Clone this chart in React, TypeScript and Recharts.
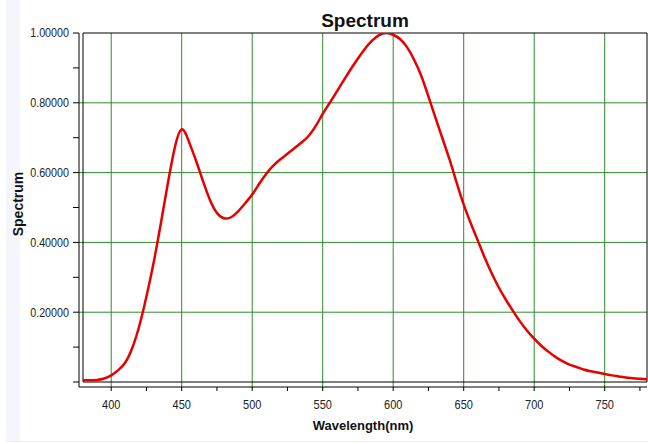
import React from "react";
import {
  LineChart,
  Line,
  XAxis,
  YAxis,
  CartesianGrid,
  ReferenceArea,
} from "recharts";

// wavelengths (nm) and relative spectrum
const wavelengths = [
  380, 385, 390, 395, 400, 405, 410, 415, 420, 425, 430, 435, 440, 445, 450,
  455, 460, 465, 470, 475, 480, 485, 490, 495, 500, 505, 510, 515, 520,
  525, 530, 535, 540, 545, 550, 555, 560, 565, 570, 575, 580, 585, 590, 595,
  600, 605, 610, 615, 620, 625, 630, 635, 640, 645, 650, 655, 660, 665, 670,
  675, 680, 685, 690, 695, 700, 705, 710, 715, 720, 725, 730, 735, 740, 745,
  750, 755, 760, 765, 770, 775, 780,
];
const spectrum = [
  0.005, 0.005, 0.006, 0.01, 0.019, 0.034, 0.056, 0.098, 0.162, 0.245, 0.34,
  0.45, 0.565, 0.67, 0.724, 0.69, 0.636, 0.577, 0.522, 0.484, 0.469,
  0.472, 0.489, 0.512, 0.537, 0.568, 0.597, 0.62, 0.638, 0.654, 0.67, 0.686,
  0.705, 0.733, 0.768, 0.8, 0.832, 0.865, 0.897, 0.927, 0.955, 0.978, 0.994,
  1.0, 0.995, 0.982, 0.958, 0.922, 0.876, 0.818, 0.757, 0.697, 0.637, 0.571,
  0.508, 0.455, 0.405, 0.355, 0.31, 0.27, 0.235, 0.203, 0.173, 0.147, 0.124,
  0.104, 0.087, 0.072, 0.06, 0.05, 0.043, 0.036, 0.031, 0.027, 0.023, 0.019,
  0.016, 0.013, 0.011, 0.009, 0.008,
];

const xTicks = [400, 425, 450, 475, 500, 525, 550, 575, 600, 625, 650, 675, 700, 725, 750, 775];
const xGrid = [400, 450, 500, 550, 600, 650, 700, 750];
const yTicks = [0, 0.1, 0.2, 0.3, 0.4, 0.5, 0.6, 0.7, 0.8, 0.9, 1.0];
const yGrid = [0.2, 0.4, 0.6, 0.8];

const data = wavelengths.map((w, i) => ({ nm: w, value: spectrum[i] }));

const FONT = "'Liberation Sans', Arial, sans-serif";

// tick labels in the original are a narrow face, squeeze them horizontally
const XTick = (props: any) => {
  const { x, y, payload } = props;
  if (payload.value % 50 !== 0) return <g />;
  return (
    <text
      transform={`translate(${x} ${y}) scale(0.88 1)`}
      dy="0.71em"
      textAnchor="middle"
      fill="#222"
      fontSize={12.5}
      fontFamily={FONT}
    >
      {payload.value}
    </text>
  );
};

const YTick = (props: any) => {
  const { x, y, payload } = props;
  const v = payload.value;
  const k = Math.round(v * 10);
  if (k === 0 || k % 2 !== 0) return <g />;
  return (
    <text
      transform={`translate(${x} ${y}) scale(0.86 1)`}
      dy="0.355em"
      textAnchor="end"
      fill="#222"
      fontSize={12.5}
      fontFamily={FONT}
    >
      {v.toFixed(5)}
    </text>
  );
};

const YLabel = (props: any) => {
  const { viewBox } = props;
  const cx = viewBox.x + 17.5;
  const cy = viewBox.y + viewBox.height / 2 - 6;
  return (
    <text
      x={cx}
      y={cy}
      transform={`rotate(-90 ${cx} ${cy})`}
      textAnchor="middle"
      dominantBaseline="central"
      fontSize={14}
      fontWeight="bold"
      fontFamily={FONT}
      fill="#111"
    >
      Spectrum
    </text>
  );
};

export default function App() {
  return (
    <div style={{ position: "absolute", left: 0, top: 0, width: 648, height: 444, background: "#fff" }}>
      <div style={{ position: "absolute", left: 6, top: 0, width: 14, height: 442, background: "#f5f6fc" }} />
      <div style={{ position: "absolute", left: 6, top: 441, width: 642, height: 1, background: "#eceef6" }} />
      <div style={{ position: "absolute", left: 0, top: 0 }}>
        <LineChart
          width={648}
          height={444}
          data={data}
          margin={{ top: 33, right: 1, bottom: 0, left: 0 }}
        >
          <CartesianGrid
            stroke="#2e8b2e"
            strokeWidth={1}
            verticalValues={xGrid}
            horizontalValues={yGrid}
          />
          <XAxis
            dataKey="nm"
            type="number"
            domain={[380, 780]}
            allowDataOverflow
            ticks={xTicks}
            interval={0}
            padding={{ left: 4, right: 0 }}
            height={57}
            tickSize={4}
            tickMargin={9}
            stroke="#000"
            tick={<XTick />}
            label={{
              value: "Wavelength(nm)",
              position: "insideBottom",
              offset: 14,
              style: { fontSize: 13, fontWeight: "bold", fontFamily: FONT, fill: "#111" },
            }}
          />
          <YAxis
            type="number"
            domain={[0, 1]}
            allowDataOverflow
            ticks={yTicks}
            interval={0}
            padding={{ top: 0, bottom: 5 }}
            width={79}
            tickSize={6}
            tickMargin={4}
            stroke="#000"
            tick={<YTick />}
            label={<YLabel />}
          />
          <ReferenceArea
            x1={380}
            x2={780}
            y1={0}
            y2={1}
            fill="none"
            stroke="#000"
            strokeWidth={1}
            label={{
              value: "Spectrum",
              position: "top",
              offset: 6,
              style: { fontSize: 19, fontWeight: "bold", fontFamily: FONT, fill: "#111" },
            }}
          />
          <Line
            type="natural"
            dataKey="value"
            stroke="#e60000"
            strokeWidth={2.5}
            dot={false}
            isAnimationActive={false}
          />
        </LineChart>
      </div>
    </div>
  );
}
